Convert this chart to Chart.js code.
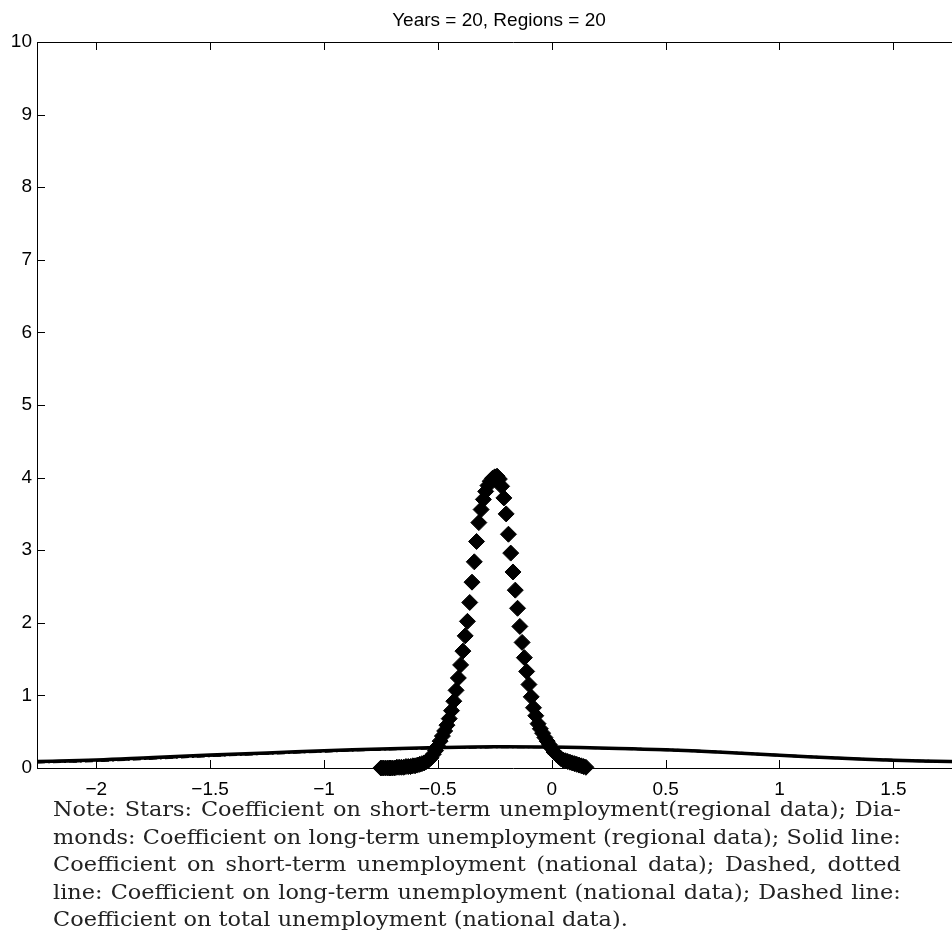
<!DOCTYPE html>
<html>
<head>
<meta charset="utf-8">
<script src="https://cdn.jsdelivr.net/npm/chart.js@4.4.1/dist/chart.umd.min.js"></script>
<style>
  html, body { margin: 0; padding: 0; background: #fff; overflow: hidden; width: 952px; height: 949px; }
  #chart { position: absolute; left: 0; top: 0; }
  #note {
    position: absolute; left: 53px; top: 796px; width: 757px;
    transform: scaleX(1.12); transform-origin: left top;
    font-family: "DejaVu Serif", "Liberation Serif", serif; font-size: 20px; line-height: 27.5px; color: #222;
  }
  #note div { text-align: justify; text-align-last: justify; white-space: nowrap; }
  #note div.last { text-align-last: left; }
</style>
</head>
<body>
<canvas id="chart" width="998" height="806"></canvas>
<div id="note">
  <div>Note: Stars: Coefficient on short-term unemployment(regional data); Dia-</div>
  <div>monds: Coefficient on long-term unemployment (regional data); Solid line:</div>
  <div>Coefficient on short-term unemployment (national data); Dashed, dotted</div>
  <div>line: Coefficient on long-term unemployment (national data); Dashed line:</div>
  <div class="last">Coefficient on total unemployment (national data).</div>
</div>
<script>
// regional estimates (diamonds), density
const diamondX = [-0.75, -0.74, -0.73, -0.72, -0.71, -0.70, -0.69, -0.68, -0.67, -0.66,
  -0.65, -0.64, -0.63, -0.62, -0.61, -0.60, -0.59, -0.58, -0.57, -0.56,
  -0.55, -0.54, -0.53, -0.52, -0.51, -0.50, -0.49, -0.48, -0.47, -0.46,
  -0.45, -0.44, -0.43, -0.42, -0.41, -0.40, -0.39, -0.38, -0.37, -0.36,
  -0.35, -0.34, -0.33, -0.32, -0.31, -0.30, -0.29, -0.28, -0.27, -0.26,
  -0.25, -0.24, -0.23, -0.22, -0.21, -0.20, -0.19, -0.18, -0.17, -0.16,
  -0.15, -0.14, -0.13, -0.12, -0.11, -0.10, -0.09, -0.08, -0.07, -0.06,
  -0.05, -0.04, -0.03, -0.02, -0.01, 0.00, 0.01, 0.02, 0.03, 0.04,
  0.05, 0.06, 0.07, 0.08, 0.09, 0.10, 0.11, 0.12, 0.13, 0.14, 0.15]
const diamondY = [0.0, 0.0, 0.0, 0.0, 0.0, 0.0, 0.0, 0.01, 0.01, 0.01,
  0.01, 0.02, 0.02, 0.02, 0.03, 0.03, 0.04, 0.05, 0.06, 0.07,
  0.09, 0.11, 0.14, 0.19, 0.24, 0.30, 0.37, 0.44, 0.51, 0.59,
  0.68, 0.79, 0.92, 1.07, 1.24, 1.42, 1.61, 1.82, 2.02, 2.28,
  2.56, 2.84, 3.12, 3.38, 3.56, 3.70, 3.81, 3.89, 3.95, 3.99,
  4.01, 4.02, 3.98, 3.88, 3.72, 3.50, 3.22, 2.96, 2.70, 2.45,
  2.20, 1.95, 1.73, 1.52, 1.33, 1.15, 0.98, 0.83, 0.72, 0.61,
  0.54, 0.48, 0.42, 0.37, 0.32, 0.27, 0.22, 0.19, 0.16, 0.13,
  0.11, 0.10, 0.09, 0.08, 0.07, 0.06, 0.05, 0.04, 0.03, 0.02, 0.01]

// national estimates (wide curves)
const nationalX = [-2.26, -2.0, -1.75, -1.5, -1.25, -1.0, -0.75, -0.5, -0.25, 0.0, 0.25, 0.5, 0.75, 1.0, 1.25, 1.5, 1.75, 1.92]
const shortTermY = [0.09, 0.11, 0.145, 0.178, 0.208, 0.237, 0.262, 0.281, 0.292, 0.288, 0.273, 0.252, 0.218, 0.175, 0.138, 0.108, 0.088, 0.076]
const longTermY = [0.075, 0.095, 0.128, 0.163, 0.195, 0.225, 0.252, 0.272, 0.285, 0.285, 0.272, 0.255, 0.222, 0.18, 0.142, 0.112, 0.092, 0.08]
const totalY = [0.08, 0.1, 0.133, 0.168, 0.2, 0.23, 0.256, 0.276, 0.288, 0.286, 0.268, 0.246, 0.212, 0.17, 0.133, 0.103, 0.083, 0.072]

const xTicks = [-2, -1.5, -1, -0.5, 0, 0.5, 1, 1.5]
const yTicks = [0, 1, 2, 3, 4, 5, 6, 7, 8, 9, 10]

const pts = (xs, ys) => xs.map((x, i) => ({ x: x, y: ys[i] }))
const minus = v => String(v).replace('-', '\u2212')

// matlab style frame with inward ticks
const frame = {
  id: 'frame',
  afterDraw(chart) {
    const { ctx, chartArea: a, scales: { x, y } } = chart
    ctx.save()
    ctx.strokeStyle = '#000'
    ctx.lineWidth = 1
    ctx.beginPath()
    ctx.rect(a.left + 0.5, a.top + 0.5, a.right - a.left, a.bottom - a.top)
    xTicks.forEach(v => {
      const px = Math.round(x.getPixelForValue(v)) + 0.5
      ctx.moveTo(px, a.bottom); ctx.lineTo(px, a.bottom - 8)
      ctx.moveTo(px, a.top); ctx.lineTo(px, a.top + 8)
    })
    yTicks.forEach(v => {
      const py = Math.round(y.getPixelForValue(v)) + 0.5
      ctx.moveTo(a.left, py); ctx.lineTo(a.left + 8, py)
      ctx.moveTo(a.right, py); ctx.lineTo(a.right - 8, py)
    })
    ctx.stroke()
    ctx.restore()
  }
}

Chart.defaults.font.family = '"Liberation Sans", Arial, sans-serif'
Chart.defaults.color = '#000'

new Chart(document.getElementById('chart'), {
  type: 'scatter',
  data: {
    datasets: [
      {
        label: 'Diamonds',
        data: pts(diamondX, diamondY),
        showLine: false,
        pointStyle: 'rectRot',
        pointRadius: 8,
        backgroundColor: '#000',
        borderColor: '#000',
        borderWidth: 1
      },
      {
        label: 'Solid line',
        data: pts(nationalX, shortTermY),
        showLine: true, pointRadius: 0, borderColor: '#000', borderWidth: 3.5, tension: 0.4
      },
      {
        label: 'Dashed, dotted line',
        data: pts(nationalX, longTermY),
        showLine: true, pointRadius: 0, borderColor: '#000', borderWidth: 2, borderDash: [8, 3, 2, 3], tension: 0.4
      },
      {
        label: 'Dashed line',
        data: pts(nationalX, totalY),
        showLine: true, pointRadius: 0, borderColor: '#000', borderWidth: 2, borderDash: [8, 4], tension: 0.4
      }
    ]
  },
  options: {
    responsive: false,
    animation: false,
    clip: false,
    layout: { padding: 0 },
    plugins: {
      legend: { display: false },
      tooltip: { enabled: false },
      title: {
        display: true,
        text: 'Years = 20, Regions = 20',
        color: '#000',
        font: { size: 19, weight: 'normal' },
        padding: { top: 9, bottom: 10.2 }
      }
    },
    scales: {
      x: {
        type: 'linear',
        min: -2.26,
        max: 1.92,
        afterBuildTicks: s => { s.ticks = xTicks.map(v => ({ value: v })) },
        afterFit: s => { s.height = 38 },
        grid: { display: false, drawTicks: false },
        border: { display: false },
        ticks: { font: { size: 19 }, padding: 10, maxRotation: 0, callback: v => minus(v) }
      },
      y: {
        type: 'linear',
        min: 0,
        max: 10,
        afterBuildTicks: s => { s.ticks = yTicks.map(v => ({ value: v })) },
        afterFit: s => { s.width = 37 },
        grid: { display: false, drawTicks: false },
        border: { display: false },
        ticks: { font: { size: 19 }, padding: 5, callback: v => minus(v) }
      }
    }
  },
  plugins: [frame]
})
</script>
</body>
</html>
